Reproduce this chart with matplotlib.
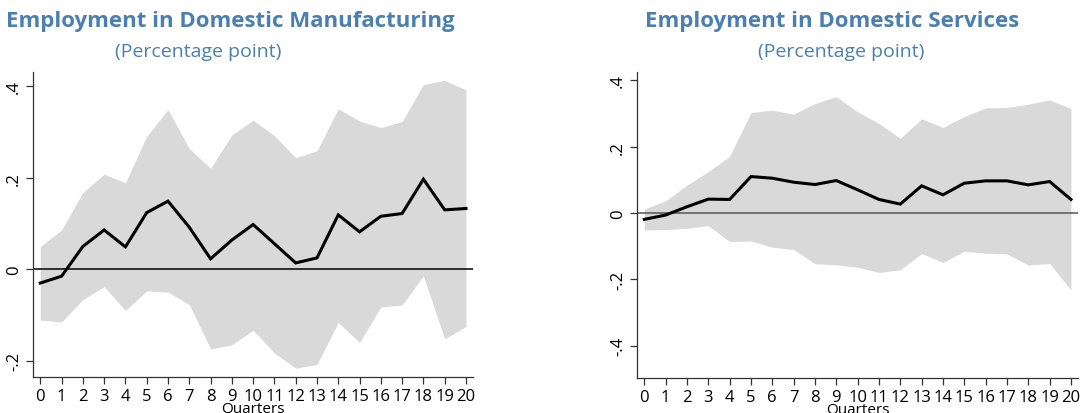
import matplotlib
matplotlib.use("Agg")
import matplotlib.pyplot as plt
import numpy as np

quarters = list(range(21))

manu_mean = [-0.030, -0.015, 0.050, 0.086, 0.049, 0.124, 0.149, 0.092, 0.023, 0.064, 0.098,
             0.056, 0.014, 0.025, 0.119, 0.082, 0.116, 0.122, 0.197, 0.130, 0.133]
manu_upper = [0.050, 0.086, 0.168, 0.208, 0.189, 0.291, 0.349, 0.264, 0.221, 0.294, 0.326,
              0.292, 0.244, 0.259, 0.351, 0.324, 0.310, 0.323, 0.404, 0.413, 0.392]
manu_lower = [-0.111, -0.115, -0.066, -0.038, -0.090, -0.047, -0.050, -0.077, -0.174, -0.165, -0.133,
              -0.183, -0.216, -0.208, -0.116, -0.160, -0.082, -0.078, -0.014, -0.152, -0.125]

serv_mean = [-0.019, -0.006, 0.019, 0.042, 0.041, 0.110, 0.105, 0.093, 0.086, 0.098, 0.070,
             0.041, 0.027, 0.082, 0.055, 0.090, 0.097, 0.097, 0.085, 0.095, 0.041]
serv_upper = [0.012, 0.037, 0.084, 0.125, 0.171, 0.303, 0.310, 0.298, 0.330, 0.351, 0.305,
              0.270, 0.225, 0.284, 0.258, 0.291, 0.317, 0.318, 0.328, 0.341, 0.315]
serv_lower = [-0.051, -0.050, -0.046, -0.038, -0.086, -0.084, -0.103, -0.110, -0.153, -0.156, -0.163,
              -0.179, -0.171, -0.122, -0.149, -0.115, -0.121, -0.123, -0.157, -0.152, -0.232]

manu_yticks = [-0.2, 0, 0.2, 0.4]
manu_ylabels = ["-.2", "0", ".2", ".4"]
serv_yticks = [-0.4, -0.2, 0, 0.2, 0.4]
serv_ylabels = ["-.4", "-.2", "0", ".2", ".4"]

title_color = "#4a7fb0"
plt.rcParams['font.family'] = ['Open Sans', 'DejaVu Sans']

fig = plt.figure(figsize=(10.81, 4.14), dpi=100)

W, H = 1081, 414
def axes_px(x0, x1, y0, y1):
    return fig.add_axes([x0 / W, 1 - y1 / H, (x1 - x0) / W, (y1 - y0) / H])

ax1 = axes_px(33, 473, 72.7, 378.3)
ax2 = axes_px(637, 1078, 72.7, 379.3)

def style(ax, mean, up, lo, yticks, ylabels, ylim, zcolor):
    ax.fill_between(quarters, lo, up, color="#d9d9d9", linewidth=0)
    ax.axhline(0, color=zcolor, lw=1.1, zorder=2)
    ax.plot(quarters, mean, color="black", lw=2.2, zorder=3, solid_joinstyle="miter")
    ax.set_xlim(-0.343, 20.33)
    ax.set_ylim(*ylim)
    ax.set_xticks(quarters)
    ax.set_xticklabels([str(q) for q in quarters], fontsize=12)
    ax.set_yticks(yticks)
    ax.set_yticklabels(ylabels, fontsize=12, rotation=90, va="center")
    for s in ["top", "right"]:
        ax.spines[s].set_visible(False)
    for s in ["left", "bottom"]:
        ax.spines[s].set_color("#333333")
        ax.spines[s].set_linewidth(0.9)
    ax.tick_params(axis="both", length=5, width=0.9, color="#333333", pad=3)
    ax.set_xlabel("Quarters", fontsize=11, labelpad=-3)

style(ax1, manu_mean, manu_upper, manu_lower, manu_yticks, manu_ylabels, (-0.236, 0.432), "black")
style(ax2, serv_mean, serv_upper, serv_lower, serv_yticks, serv_ylabels, (-0.498, 0.426), "#555555")

fig.text(230 / W, 1 - 22 / H, "Employment in Domestic Manufacturing", ha="center", va="center",
         fontsize=16, fontweight="bold", color=title_color)
fig.text(198 / W, 1 - 52 / H, "(Percentage point)", ha="center", va="center",
         fontsize=14, color=title_color)
fig.text(832 / W, 1 - 22 / H, "Employment in Domestic Services", ha="center", va="center",
         fontsize=16, fontweight="bold", color=title_color)
fig.text(841 / W, 1 - 52 / H, "(Percentage point)", ha="center", va="center",
         fontsize=14, color=title_color)

fig.savefig("out.png", dpi=100)
